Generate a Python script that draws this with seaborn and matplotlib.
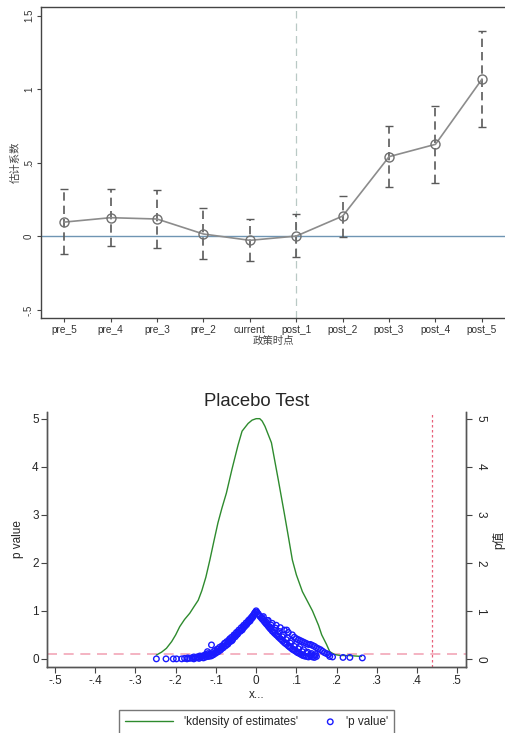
import numpy as np
import pandas as pd
import matplotlib
matplotlib.use("Agg")
import matplotlib.pyplot as plt
import seaborn as sns
from matplotlib.legend_handler import HandlerPathCollection

sns.set_style("ticks")
plt.rcParams["font.family"] = ["Liberation Sans", "Noto Sans CJK SC", "DejaVu Sans"]

# --------------------------------------------------
# data: event study
# --------------------------------------------------
periods = ["pre_5", "pre_4", "pre_3", "pre_2", "current",
           "post_1", "post_2", "post_3", "post_4", "post_5"]
coef = [0.097, 0.127, 0.118, 0.016, -0.027, 0.002, 0.138, 0.542, 0.626, 1.068]
ci_low = [-0.122, -0.063, -0.080, -0.156, -0.170, -0.143, -0.005, 0.335, 0.363, 0.742]
ci_high = [0.320, 0.320, 0.315, 0.190, 0.118, 0.150, 0.274, 0.748, 0.889, 1.397]

# --------------------------------------------------
# data: placebo test
# --------------------------------------------------
kd_x = [-0.248, -0.235, -0.223, -0.210, -0.200, -0.190, -0.178, -0.165, -0.155,
        -0.144, -0.135, -0.125, -0.115, -0.105, -0.095, -0.085, -0.074, -0.060,
        -0.045, -0.035, -0.020, -0.010, 0.000, 0.009, 0.015, 0.022, 0.038, 0.055,
        0.070, 0.080, 0.090, 0.100, 0.115, 0.140, 0.155, 0.163, 0.175, 0.183,
        0.195, 0.210, 0.230, 0.262]
kd_y = [0.08, 0.14, 0.22, 0.36, 0.50, 0.67, 0.82, 0.95, 1.08, 1.22, 1.42, 1.70,
        2.06, 2.45, 2.83, 3.14, 3.45, 3.95, 4.45, 4.74, 4.90, 4.97, 5.00, 5.00,
        4.95, 4.84, 4.50, 3.73, 3.03, 2.55, 2.06, 1.75, 1.40, 1.00, 0.70, 0.50,
        0.30, 0.15, 0.09, 0.07, 0.07, 0.05]

est_vals = [
    # left branch
    -0.248, -0.224, -0.206, -0.198, -0.185, -0.178, -0.172, -0.165, -0.160, -0.155,
    -0.150, -0.147, -0.142, -0.138, -0.135, -0.131, -0.128, -0.125, -0.122, -0.118,
    -0.115, -0.112, -0.111, -0.109, -0.106, -0.103, -0.100, -0.097, -0.094, -0.091,
    -0.088, -0.085, -0.082, -0.079, -0.076, -0.073, -0.070, -0.067, -0.064, -0.061,
    -0.058, -0.055, -0.052, -0.049, -0.046, -0.043, -0.040, -0.037, -0.034, -0.031,
    -0.028, -0.025, -0.022, -0.019, -0.016, -0.013, -0.010, -0.007, -0.004, -0.002,
    0.000,
    -0.170, -0.145, -0.120, -0.108, -0.098, -0.090, -0.080, -0.072, -0.065, -0.060,
    -0.050, -0.045, -0.035, -0.030, -0.020, -0.015, -0.008, -0.121, -0.140, -0.155,
    -0.133, -0.126, -0.117, -0.104, -0.095, -0.086, -0.077, -0.069, -0.062, -0.054,
    -0.047, -0.039, -0.032, -0.024, -0.017, -0.011, -0.005,
    # right upper branch
    0.030, 0.040, 0.050, 0.060, 0.070, 0.076, 0.080, 0.090, 0.095, 0.100,
    0.105, 0.110, 0.115, 0.120, 0.125, 0.130, 0.135, 0.140, 0.145, 0.150,
    0.155, 0.160, 0.165, 0.170, 0.175, 0.180, 0.183, 0.190,
    # right main / lower branch
    0.002, 0.005, 0.008, 0.010, 0.013, 0.016, 0.020, 0.023, 0.026, 0.030,
    0.033, 0.036, 0.040, 0.043, 0.046, 0.050, 0.053, 0.056, 0.060, 0.063,
    0.066, 0.070, 0.073, 0.076, 0.080, 0.083, 0.086, 0.090, 0.093, 0.096,
    0.100, 0.103, 0.106, 0.110, 0.113, 0.116, 0.120, 0.125, 0.130, 0.135,
    0.140, 0.145, 0.150,
    0.015, 0.025, 0.035, 0.045, 0.055, 0.065, 0.075, 0.085, 0.095, 0.105,
    0.115, 0.125, 0.135, 0.145,
    0.018, 0.028, 0.038, 0.048, 0.058, 0.068, 0.078, 0.088, 0.098, 0.108,
    0.118, 0.128, 0.138, 0.148,
    # far right
    0.216, 0.233, 0.264,
]
p_vals = [
    0.00, 0.00, 0.00, 0.00, 0.00, 0.01, 0.00, 0.01, 0.02, 0.00,
    0.02, 0.04, 0.01, 0.03, 0.05, 0.02, 0.07, 0.04, 0.08, 0.05,
    0.10, 0.06, 0.29, 0.13, 0.09, 0.17, 0.12, 0.20, 0.15, 0.24,
    0.19, 0.27, 0.23, 0.32, 0.27, 0.36, 0.31, 0.40, 0.36, 0.45,
    0.41, 0.50, 0.46, 0.55, 0.52, 0.60, 0.57, 0.65, 0.62, 0.70,
    0.68, 0.75, 0.74, 0.80, 0.82, 0.85, 0.88, 0.91, 0.95, 0.97,
    1.00,
    0.02, 0.03, 0.11, 0.08, 0.15, 0.18, 0.26, 0.30, 0.42, 0.38,
    0.49, 0.56, 0.60, 0.66, 0.76, 0.79, 0.87, 0.15, 0.06, 0.04,
    0.06, 0.09, 0.07, 0.11, 0.20, 0.22, 0.33, 0.35, 0.39, 0.48,
    0.51, 0.59, 0.67, 0.71, 0.78, 0.84, 0.93,
    0.80, 0.74, 0.70, 0.65, 0.60, 0.60, 0.55, 0.50, 0.45, 0.42,
    0.40, 0.38, 0.36, 0.34, 0.32, 0.30, 0.30, 0.28, 0.26, 0.23,
    0.21, 0.19, 0.16, 0.13, 0.11, 0.09, 0.05, 0.04,
    0.97, 0.94, 0.90, 0.88, 0.85, 0.82, 0.78, 0.75, 0.72, 0.68,
    0.65, 0.62, 0.58, 0.56, 0.53, 0.50, 0.48, 0.45, 0.42, 0.40,
    0.37, 0.34, 0.32, 0.30, 0.27, 0.25, 0.23, 0.20, 0.19, 0.17,
    0.15, 0.13, 0.12, 0.10, 0.09, 0.07, 0.06, 0.05, 0.04, 0.06,
    0.04, 0.03, 0.05,
    0.86, 0.77, 0.66, 0.60, 0.52, 0.46, 0.40, 0.33, 0.26, 0.21,
    0.15, 0.12, 0.09, 0.07,
    0.88, 0.80, 0.70, 0.64, 0.57, 0.50, 0.44, 0.37, 0.30, 0.25,
    0.19, 0.14, 0.11, 0.09,
    0.03, 0.03, 0.02,
]

p_cut = 0.1
true_est = 0.438

es_df = pd.DataFrame({"pos": np.arange(len(periods)), "coef": coef,
                      "lo": ci_low, "hi": ci_high})
kd_df = pd.DataFrame({"x": kd_x, "y": kd_y})
pv_df = pd.DataFrame({"est": est_vals, "p": p_vals})


# legend marker sits at the right end of its handle box
class RightMarker(HandlerPathCollection):
    def get_xdata(self, legend, xdescent, ydescent, width, height, fontsize):
        x = [-xdescent + width - 0.3 * fontsize]
        return x, x


fig = plt.figure(figsize=(5.05, 7.33), dpi=100)

# --------------------------------------------------
# 1. event study plot
# --------------------------------------------------
ax1 = fig.add_axes([0.0812, 0.5662, 0.919, 0.4243])

ax1.axhline(0, color="#6f95b3", lw=1.0, zorder=1)
ax1.axvline(5, color="#b9c9c5", lw=0.9, ls=(0, (6, 4)), zorder=1)

eb = ax1.errorbar(es_df["pos"], es_df["coef"],
                  yerr=[es_df["coef"] - es_df["lo"], es_df["hi"] - es_df["coef"]],
                  fmt="none", ecolor="#5a5a5a", elinewidth=1.2, capsize=3,
                  capthick=1.0, zorder=2)
eb[2][0].set_linestyle((0, (5, 3)))

sns.lineplot(data=es_df, x="pos", y="coef", ax=ax1, color="#8c8c8c", lw=1.2,
             marker="o", markersize=6.5, markerfacecolor="none",
             markeredgecolor="#707070", markeredgewidth=1.0, zorder=3)

ax1.set_xlim(-0.5, 9.5)
ax1.set_ylim(-0.555, 1.56)
ax1.set_xticks(es_df["pos"])
ax1.set_xticklabels(periods, fontsize=7.3, color="#333333")
ax1.set_yticks([-0.5, 0, 0.5, 1, 1.5])
ax1.set_yticklabels(["-.5", "0", ".5", "1", "1.5"], fontsize=7,
                    rotation=90, va="center", color="#333333")
ax1.set_xlabel("政策时点", fontsize=7.5, color="#444444", labelpad=1)
ax1.set_ylabel("估计系数", fontsize=7.5, color="#444444", labelpad=2)
ax1.tick_params(axis="both", length=3, width=0.8, color="#444444", pad=2)
ax1.spines["right"].set_visible(False)
for s in ["left", "bottom", "top"]:
    ax1.spines[s].set_color("#444444")
    ax1.spines[s].set_linewidth(1.0)

# --------------------------------------------------
# 2. placebo test
# --------------------------------------------------
ax2 = fig.add_axes([0.093, 0.090, 0.830, 0.348])

ax2.axhline(p_cut, color="#f2a7b8", lw=1.2, ls=(0, (6, 4)), zorder=1)
ax2.axvline(true_est, color="#e8607a", lw=0.9, ls=(0, (2, 2)), zorder=1)

sns.lineplot(data=kd_df, x="x", y="y", ax=ax2, color="#2e8b2e", lw=1.0,
             sort=False, label="'kdensity of estimates'", zorder=3)

ax2r = ax2.twinx()
sns.scatterplot(data=pv_df, x="est", y="p", ax=ax2r, marker="o",
                facecolors="none", edgecolor="#1a1aff", linewidth=1.0, s=16,
                label="'p value'", zorder=3)

for a in (ax2, ax2r):
    a.set_ylim(-0.17, 5.14)
    a.set_yticks([0, 1, 2, 3, 4, 5])
ax2.set_xlim(-0.52, 0.522)
ax2.set_xticks(np.round(np.arange(-0.5, 0.51, 0.1), 1))
ax2.set_xticklabels(["-.5", "-.4", "-.3", "-.2", "-.1", "0",
                     ".1", ".2", ".3", ".4", ".5"], fontsize=8.5)
ax2.tick_params(axis="both", labelsize=8.5, length=4, width=0.8,
                color="#444444", pad=2)
ax2r.tick_params(axis="y", labelsize=8.5, length=4, width=0.8,
                 color="#444444", pad=2, labelrotation=-90)
for t in ax2r.get_yticklabels():
    t.set_va("center")
ax2.set_xlabel("x...", fontsize=8.5, labelpad=1)
ax2.set_ylabel("p value", fontsize=8.5, labelpad=6)
ax2r.set_ylabel("p值", fontsize=8.5, rotation=90, labelpad=4)
ax2.set_title("Placebo Test", fontsize=13.3, pad=4)

for a in (ax2, ax2r):
    a.spines["top"].set_visible(False)
    for s in ["left", "bottom", "right"]:
        a.spines[s].set_color("#555555")
        a.spines[s].set_linewidth(1.0)

h1, l1 = ax2.get_legend_handles_labels()
h2, l2 = ax2r.get_legend_handles_labels()
ax2.get_legend().remove()
ax2r.get_legend().remove()
fig.legend(h1 + h2, l1 + l2, loc="upper center", ncol=2,
           bbox_to_anchor=(0.508, 0.0314), borderaxespad=0, fontsize=8.5,
           frameon=True, fancybox=False, edgecolor="#555555",
           handlelength=4.0, handletextpad=1.0, columnspacing=-1.0,
           borderpad=0.5, scatterpoints=1, handler_map={h2[0]: RightMarker()})

fig.savefig("out.png", dpi=100)
